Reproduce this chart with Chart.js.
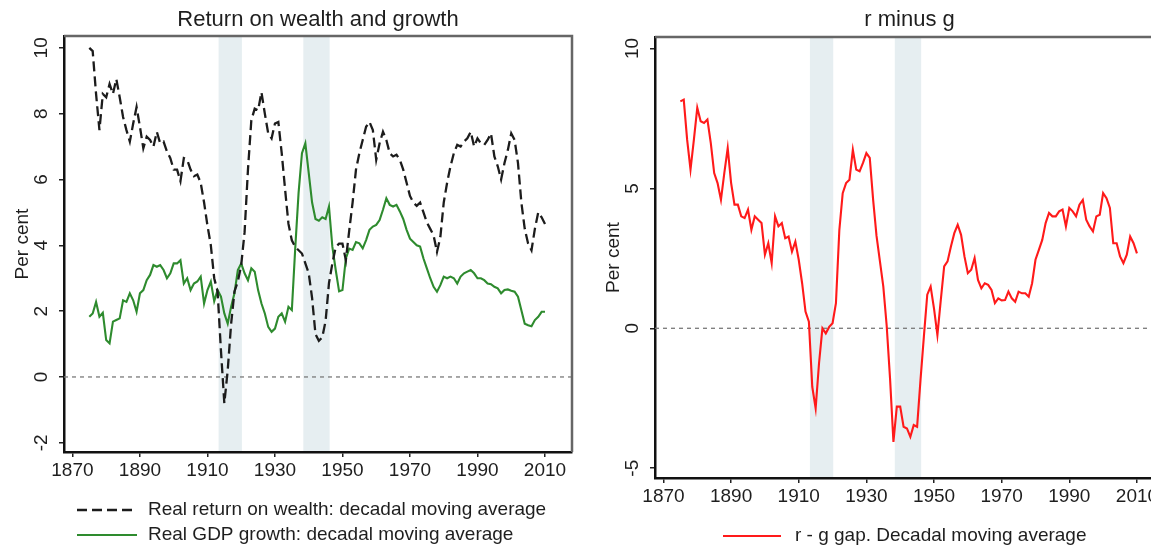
<!DOCTYPE html>
<html>
<head>
<meta charset="utf-8">
<title>Return on wealth and growth / r minus g</title>
<script src="https://cdn.jsdelivr.net/npm/chart.js@4.4.1/dist/chart.umd.min.js"></script>
<style>
  html, body { margin: 0; padding: 0; background: #fff; overflow: hidden; }
  #wrap { position: relative; width: 1151px; height: 546px; overflow: hidden; }
  #left-chart { position: absolute; left: 0; top: 0; }
  #right-chart { position: absolute; left: 580px; top: 0; }
</style>
</head>
<body>
<div id="wrap">
  <canvas id="left-chart" width="580" height="546"></canvas>
  <canvas id="right-chart" width="600" height="546"></canvas>
</div>
<script>
// years 1875..2010, one value per year
const firstYear = 1875;

const returnOnWealth = [
  10.0, 9.9, 8.6, 7.5, 8.6, 8.5, 8.9, 8.6, 9.05, 8.5,
  7.9, 7.5, 7.15, 7.7, 8.2, 7.6, 6.95, 7.3, 7.2, 7.0,
  7.45, 7.1, 7.15, 6.85, 6.65, 6.3, 6.3, 5.95, 6.65, 6.6,
  6.3, 6.1, 6.15, 5.9, 5.3, 4.6, 4.0, 3.0, 2.6, 0.8,
  -0.8, 0.2, 1.6, 2.6, 2.9, 3.4, 4.4, 6.3, 7.8, 8.15,
  8.1, 8.65, 8.0, 7.4, 7.25, 7.7, 7.75, 6.8, 5.7, 4.65,
  4.15, 3.95, 3.85, 3.75, 3.45, 3.15, 2.4, 1.3, 1.1, 1.2,
  1.7, 2.85, 3.45, 3.95, 4.05, 4.05, 3.55, 4.45, 5.3, 6.3,
  6.8, 7.2, 7.6, 7.75, 7.5, 6.6, 7.1, 7.45, 7.2, 6.8,
  6.7, 6.75, 6.6, 6.3, 5.9, 5.5, 5.3, 5.2, 5.3, 5.0,
  4.7, 4.5, 4.3, 3.8, 4.25, 5.3, 5.9, 6.4, 6.8, 7.05,
  7.0, 7.15, 7.25, 7.45, 7.0, 7.25, 7.1, 7.05, 7.2, 7.4,
  6.7, 6.4, 6.0, 6.5, 6.9, 7.4, 7.2, 6.5, 5.3, 4.5,
  4.05, 3.85, 4.5, 5.0, 4.85, 4.65
];

const gdpGrowth = [
  1.83, 1.93, 2.28, 1.83, 1.95, 1.12, 1.02, 1.68, 1.73, 1.78,
  2.33, 2.28, 2.54, 2.33, 1.98, 2.54, 2.64, 2.94, 3.1, 3.4,
  3.35, 3.4, 3.25, 3.0, 3.15, 3.45, 3.45, 3.55, 2.84, 3.0,
  2.64, 2.84, 2.9, 3.05, 2.23, 2.64, 2.9, 2.3, 2.64, 2.44,
  1.93, 1.62, 2.13, 2.54, 3.25, 3.45, 3.15, 2.94, 3.3, 3.2,
  2.64, 2.23, 1.93, 1.52, 1.37, 1.47, 1.83, 1.93, 1.68, 2.13,
  2.03, 3.9, 5.6, 6.8, 7.1, 6.2, 5.3, 4.8, 4.75, 4.85,
  4.8, 5.18, 3.96, 3.25, 2.6, 2.64, 3.6, 3.9, 3.86, 4.1,
  4.06, 3.91, 4.16, 4.47, 4.57, 4.62, 4.77, 5.08, 5.43, 5.23,
  5.18, 5.23, 5.03, 4.8, 4.47, 4.2, 4.1, 4.0, 3.96, 3.6,
  3.3, 3.0, 2.74, 2.59, 2.79, 3.05, 3.0, 3.05, 3.0, 2.84,
  3.05, 3.15, 3.2, 3.25, 3.15, 3.0, 3.0, 2.94, 2.84, 2.82,
  2.74, 2.69, 2.54, 2.64, 2.66, 2.62, 2.59, 2.44, 2.03, 1.62,
  1.57, 1.54, 1.73, 1.83, 1.98, 1.98
];

const rMinusG = [
  8.11, 8.17, 6.74, 5.67, 6.74, 7.88, 7.4, 7.34, 7.46, 6.62,
  5.55, 5.19, 4.59, 5.55, 6.44, 5.2, 4.42, 4.42, 4.0, 3.94,
  4.24, 3.52, 4.0, 3.88, 3.76, 2.63, 3.04, 2.33, 4.0, 3.64,
  3.76, 3.22, 3.28, 2.74, 3.1, 2.45, 1.61, 0.6, 0.24, -2.09,
  -2.86, -1.25, 0.0, -0.18, 0.05, 0.18, 0.9, 3.5, 4.83, 5.19,
  5.31, 6.38, 5.67, 5.61, 5.91, 6.26, 6.09, 4.59, 3.3, 2.4,
  1.5, 0.1, -1.8, -4.06, -2.8, -2.8, -3.52, -3.58, -3.88, -3.46,
  -3.52, -1.85, -0.3, 1.2, 1.49, 0.7, -0.24, 1.01, 2.21, 2.39,
  2.92, 3.4, 3.7, 3.34, 2.57, 1.97, 2.09, 2.51, 1.73, 1.43,
  1.61, 1.55, 1.37, 0.9, 1.07, 1.0, 1.01, 1.31, 1.07, 0.95,
  1.31, 1.25, 1.25, 1.13, 1.61, 2.45, 2.8, 3.16, 3.76, 4.12,
  4.0, 4.0, 4.18, 4.24, 3.64, 4.3, 4.18, 4.0, 4.42, 4.59,
  3.88, 3.64, 3.46, 4.0, 4.06, 4.83, 4.65, 4.3, 3.04, 3.04,
  2.57, 2.33, 2.63, 3.28, 3.04, 2.68
];

// world war periods shaded in both panels
const warBands = [[1913.3, 1920.2], [1938.4, 1946.2]];

const xTicks = [1870, 1890, 1910, 1930, 1950, 1970, 1990, 2010];
const leftYTicks = [-2, 0, 2, 4, 6, 8, 10];
const rightYTicks = [-5, 0, 5, 10];

const FONT = "'Liberation Sans', Arial, Helvetica, sans-serif";
const TEXT = '#1e1e1e';
Chart.defaults.font.family = FONT;

const toPoints = values => values.map((v, i) => ({ x: firstYear + i, y: v }));

// bands, zero line, frame, rotated y labels, titles and legend
const decor = {
  id: 'decor',
  beforeDraw(chart, args, o) {
    const { ctx, chartArea: a, scales: { x } } = chart;
    ctx.save();
    ctx.fillStyle = '#e6eef1';
    o.bands.forEach(([s, e]) => {
      const x0 = x.getPixelForValue(s), x1 = x.getPixelForValue(e);
      ctx.fillRect(x0, a.top, x1 - x0, a.bottom - a.top);
    });
    ctx.restore();
  },
  beforeDatasetsDraw(chart) {
    const { ctx, chartArea: a, scales: { y } } = chart;
    const y0 = y.getPixelForValue(0);
    ctx.save();
    ctx.strokeStyle = '#7a7a7a';
    ctx.lineWidth = 1.3;
    ctx.setLineDash([4, 4]);
    ctx.beginPath();
    ctx.moveTo(a.left, y0);
    ctx.lineTo(a.right, y0);
    ctx.stroke();
    ctx.restore();
  },
  afterDraw(chart, args, o) {
    const { ctx, chartArea: a, scales: { y } } = chart;
    ctx.save();
    // top and right edges of the plot region
    ctx.strokeStyle = '#666';
    ctx.lineWidth = 2.5;
    ctx.beginPath();
    ctx.moveTo(a.left, a.top);
    ctx.lineTo(a.right, a.top);
    ctx.lineTo(a.right, a.bottom);
    ctx.stroke();

    ctx.fillStyle = TEXT;
    ctx.textAlign = 'center';
    ctx.textBaseline = 'middle';

    // vertical y tick labels
    ctx.font = '19px ' + FONT;
    o.yTicks.forEach(v => {
      ctx.save();
      ctx.translate(a.left - 22, y.getPixelForValue(v));
      ctx.rotate(-Math.PI / 2);
      ctx.fillText(String(v), 0, 0);
      ctx.restore();
    });

    // axis title
    ctx.save();
    ctx.translate(a.left - 41, (a.top + a.bottom) / 2);
    ctx.rotate(-Math.PI / 2);
    ctx.fillText('Per cent', 0, 0);
    ctx.restore();

    // chart title
    ctx.font = '22px ' + FONT;
    ctx.fillText(o.title, (a.left + a.right) / 2, 20);

    // legend
    ctx.font = '19px ' + FONT;
    ctx.textAlign = 'left';
    chart.data.datasets.forEach((ds, i) => {
      const ry = o.legend.rows[i];
      ctx.save();
      ctx.strokeStyle = ds.borderColor;
      ctx.lineWidth = ds.borderWidth;
      ctx.setLineDash(ds.borderDash || []);
      ctx.beginPath();
      ctx.moveTo(o.legend.x0, ry);
      ctx.lineTo(o.legend.x1, ry);
      ctx.stroke();
      ctx.restore();
      ctx.fillText(ds.label, o.legend.tx, ry);
    });
    ctx.restore();
  }
};

function axisStyle(extra) {
  return Object.assign({
    grid: { display: true, drawOnChartArea: false, drawTicks: true, tickLength: 5, color: '#222', lineWidth: 1.5 },
    border: { display: true, color: '#111', width: 2.5 }
  }, extra);
}

function makeChart(id, datasets, cfg) {
  return new Chart(document.getElementById(id), {
    type: 'line',
    data: { datasets },
    options: {
      responsive: false,
      animation: false,
      layout: { padding: cfg.padding },
      elements: { point: { radius: 0 }, line: { tension: 0 } },
      scales: {
        x: axisStyle({
          type: 'linear',
          min: 1867.5,
          max: 2018,
          afterBuildTicks: s => { s.ticks = xTicks.map(v => ({ value: v })); },
          afterFit: s => { s.height = cfg.xHeight; },
          ticks: { font: { size: 19 }, color: TEXT, padding: 2, maxRotation: 0, autoSkip: false, callback: v => String(v) }
        }),
        y: axisStyle({
          min: cfg.yMin,
          max: cfg.yMax,
          afterBuildTicks: s => { s.ticks = cfg.yTicks.map(v => ({ value: v })); },
          afterFit: s => { s.width = cfg.yWidth; },
          ticks: { display: false }
        })
      },
      plugins: {
        legend: { display: false },
        tooltip: { enabled: false },
        decor: {
          bands: warBands,
          yTicks: cfg.yTicks,
          title: cfg.title,
          legend: cfg.legend
        }
      }
    },
    plugins: [decor]
  });
}

makeChart('left-chart', [
  {
    label: 'Real return on wealth: decadal moving average',
    data: toPoints(returnOnWealth),
    borderColor: '#1c1c1c',
    borderWidth: 2.3,
    borderDash: [10, 5]
  },
  {
    label: 'Real GDP growth: decadal moving average',
    data: toPoints(gdpGrowth),
    borderColor: '#2e8b2e',
    borderWidth: 2.1
  }
], {
  title: 'Return on wealth and growth',
  padding: { top: 36, right: 8, left: 0, bottom: 0 },
  xHeight: 94,
  yWidth: 64,
  yMin: -2.28,
  yMax: 10.36,
  yTicks: leftYTicks,
  legend: { x0: 77, x1: 137, tx: 148, rows: [510, 535] }
});

makeChart('right-chart', [
  {
    label: 'r - g gap. Decadal moving average',
    data: toPoints(rMinusG),
    borderColor: '#ff1a1a',
    borderWidth: 2.1
  }
], {
  title: 'r minus g',
  padding: { top: 37, right: 16, left: 0, bottom: 0 },
  xHeight: 68,
  yWidth: 75,
  yMin: -5.35,
  yMax: 10.41,
  yTicks: rightYTicks,
  legend: { x0: 143, x1: 201, tx: 215, rows: [536] }
});
</script>
</body>
</html>
